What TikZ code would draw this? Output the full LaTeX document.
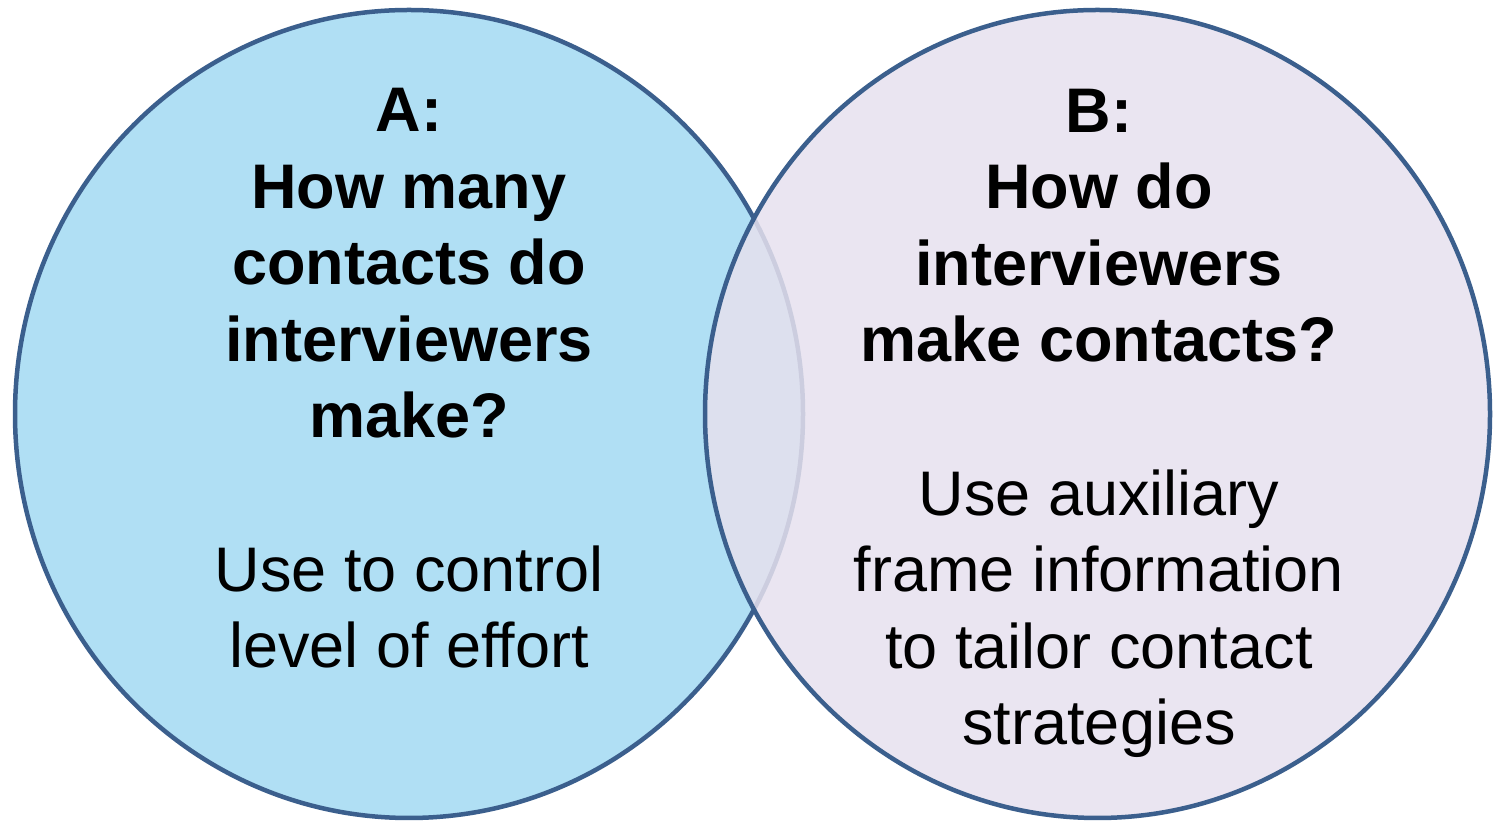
\documentclass[tikz,border=0pt]{standalone}
\usepackage{fontspec}
\setmainfont{Liberation Sans}

\definecolor{setA}{RGB}{176,223,244}
\definecolor{setB}{RGB}{230,225,238}
\definecolor{rimblue}{RGB}{59,95,141}

\begin{document}
\begin{tikzpicture}[x=1pt, y=1pt,
  rim/.style={draw=rimblue, line width=4.5pt},
  qtext/.style={anchor=base, align=center, inner sep=0pt,
    font=\fontsize{63}{76.6}\selectfont\bfseries},
  usetext/.style={anchor=base, align=center, inner sep=0pt,
    font=\fontsize{63}{76.6}\selectfont}]

\useasboundingbox (0,0) rectangle (1493,821);

% Set A
\draw[rim, fill=setA] (409,407) ellipse [x radius=394, y radius=404];
% Set B (fill a bit see-through, so A's rim shows in the overlap)
\draw[rim, fill=setB, fill opacity=0.85] (1097.5,407) ellipse [x radius=392.5, y radius=404];

% Texts in A (base = last line)
\node[qtext] (qA) at (409,383) {A:\\How many\\contacts do\\interviewers\\make?};
\node[usetext] (useA) at (409,153) {Use to control\\level of effort};

% Texts in B
\node[qtext] (qB) at (1099,459) {B:\\How do\\interviewers\\make contacts?};
\node[usetext] (useB) at (1099,76) {Use auxiliary\\frame information\\to tailor contact\\strategies};

\end{tikzpicture}
\end{document}
